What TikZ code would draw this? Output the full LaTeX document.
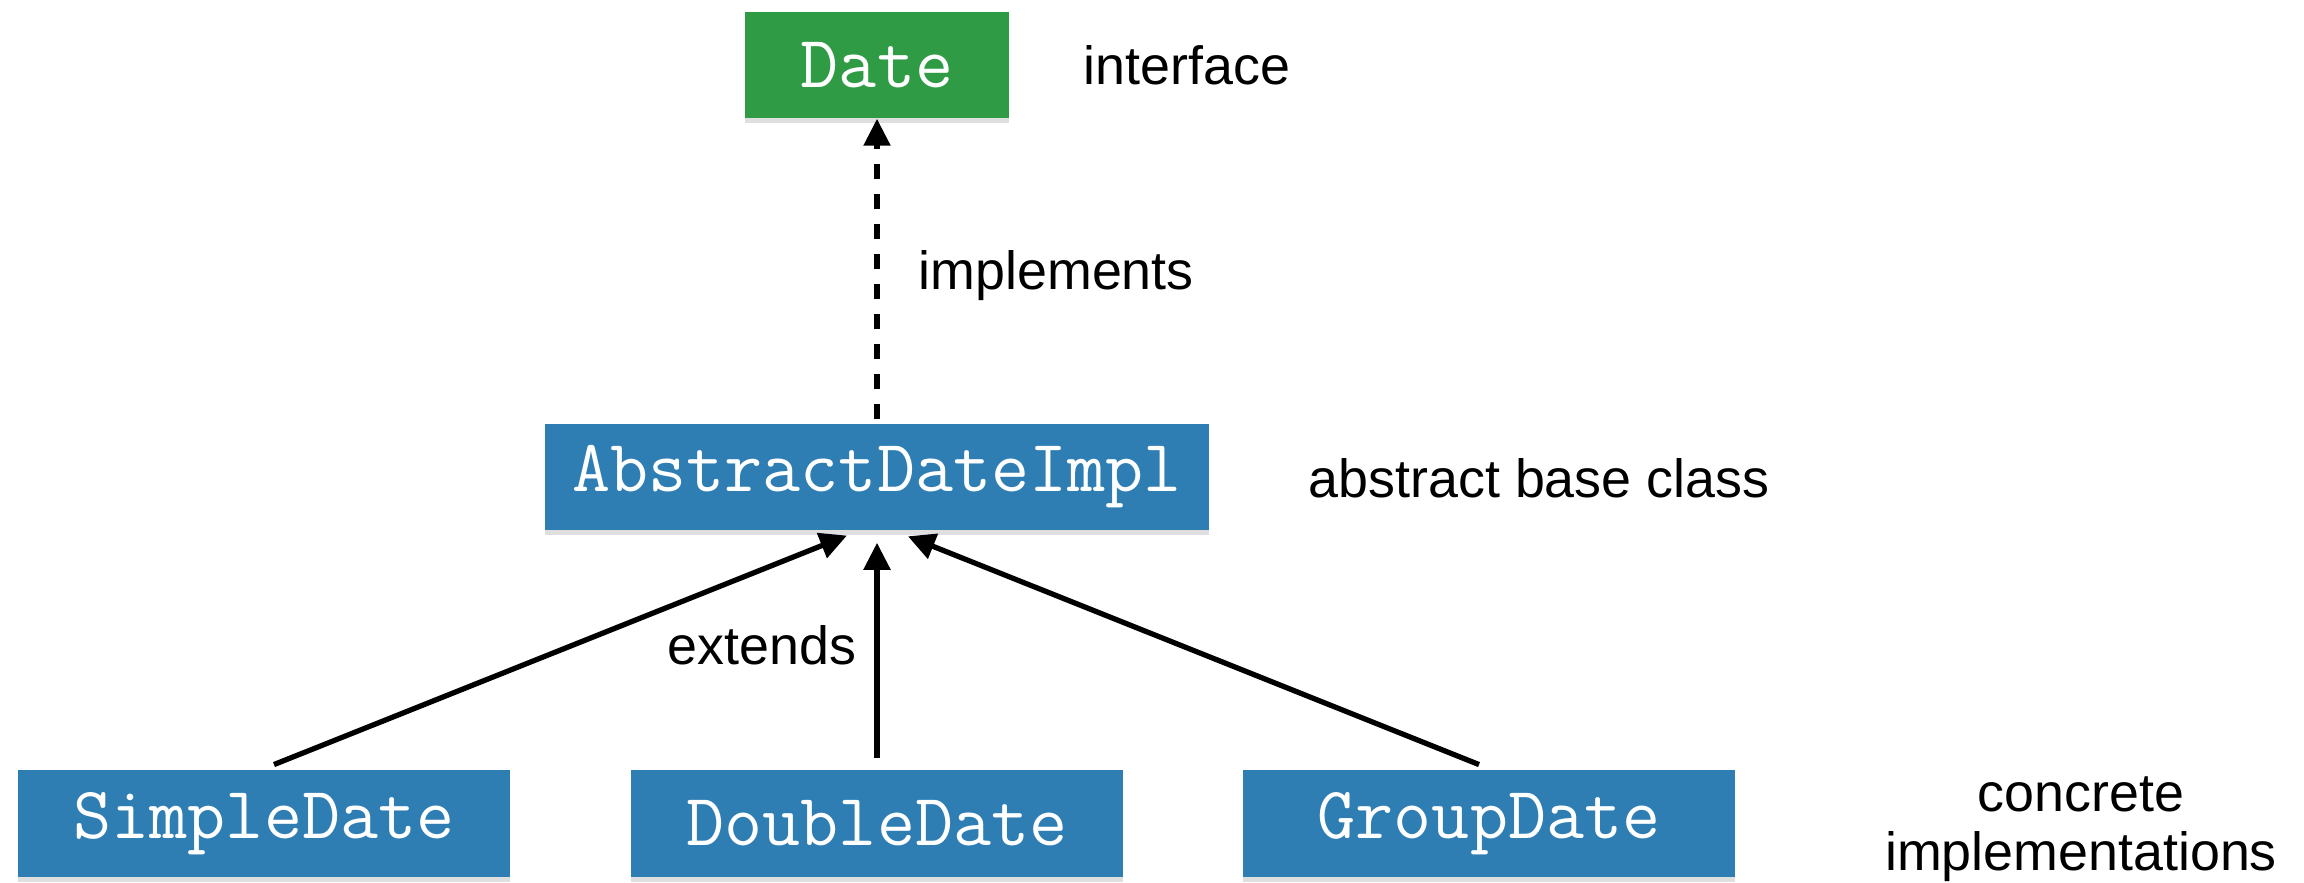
\documentclass[tikz,border=0pt]{standalone}
\usepackage{fontspec}
\setmainfont{Liberation Sans}
\usetikzlibrary{arrows.meta,shadows}
\definecolor{ifacegreen}{RGB}{47,155,69}
\definecolor{classblue}{RGB}{46,126,180}
\tikzset{
  classbox/.style={fill=classblue, text=white,
    font=\fontsize{21}{23}\selectfont\ttfamily,
    minimum height=1.06cm, inner sep=0pt,
    drop shadow={shadow xshift=0pt, shadow yshift=-0.05cm, opacity=0.25}},
  ifacebox/.style={classbox, fill=ifacegreen},
  note/.style={font=\fontsize{15.3}{16.6}\selectfont, anchor=base west, inner sep=0pt},
  rel/.style={line width=1.5pt, -{Triangle[length=0.27cm,width=0.26cm]}},
  realizes/.style={rel, dash pattern=on 0.15cm off 0.15cm},
}
\begin{document}
\begin{tikzpicture}[x=0.01cm,y=-0.01cm]
\useasboundingbox (0,0) rectangle (2304,882);

% class hierarchy boxes
\node[ifacebox, minimum width=2.63cm] (date) at (877,65) {Date};
\node[classbox, minimum width=6.64cm] (abs) at (877,477) {AbstractDateImpl};
\node[classbox, minimum width=4.92cm] (simple) at (264,823.5) {SimpleDate};
\node[classbox, minimum width=4.92cm] (double) at (877,823.5) {DoubleDate};
\node[classbox, minimum width=4.92cm] (group) at (1489,823.5) {GroupDate};

% relations
\draw[realizes, shorten <=0.04cm] (abs.north) -- (date.south);
\draw[rel, shorten <=0.14cm, shorten >=0.13cm] ([xshift=-0.03cm]simple.north) -- ([xshift=-0.18cm]abs.south);
\draw[rel, shorten <=0.12cm, shorten >=0.12cm] (double.north) -- (abs.south);
\draw[rel, shorten <=0.14cm, shorten >=0.15cm] ([xshift=0.03cm]group.north) -- ([xshift=0.17cm]abs.south);

% annotations
\node[note] (lbliface) at (1083,85) {interface};
\node[note] (lblimpl) at (918,289) {implements};
\node[note] (lblabs) at (1308,497) {abstract base class};
\node[note] (lblext) at (667,664) {extends};
\node[note, anchor=base, align=center] (lblconc) at (2081,870) {concrete\\implementations};
\end{tikzpicture}
\end{document}
